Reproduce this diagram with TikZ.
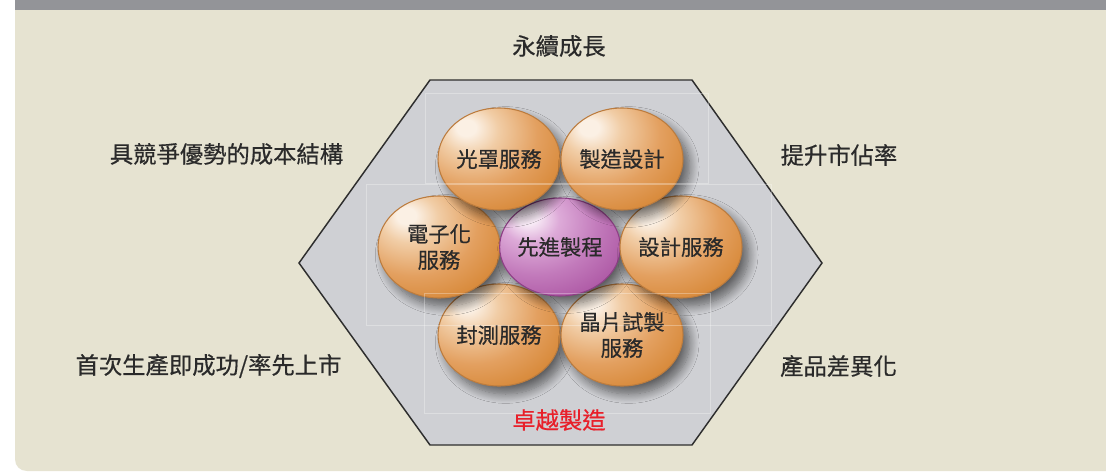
\documentclass[tikz,border=0pt]{standalone}
\usepackage{fontspec}
\newfontfamily\cjk[FakeBold=0.5]{Noto Sans CJK TC}
\usetikzlibrary{shapes.geometric,shadows.blur}
\definecolor{bg}{HTML}{E6E3D1}
\definecolor{barg}{HTML}{939498}
\definecolor{hexg}{HTML}{CFD0D4}
\definecolor{hexline}{HTML}{2E2E2E}
\definecolor{txt}{HTML}{2A2A2A}
\definecolor{redtxt}{HTML}{E8202A}
\definecolor{ohi}{HTML}{FBF0E4}
\definecolor{oa}{HTML}{F1CDA6}
\definecolor{ob}{HTML}{E3A060}
\definecolor{oc}{HTML}{D68634}
\definecolor{od}{HTML}{D07F2E}
\definecolor{oe}{HTML}{C8772A}
\definecolor{orim}{HTML}{BC7C3E}
\definecolor{phi}{HTML}{F7E9F5}
\definecolor{pa}{HTML}{DDAAD8}
\definecolor{pb}{HTML}{C27ABB}
\definecolor{pc}{HTML}{AC56A3}
\definecolor{pd}{HTML}{A24B99}
\definecolor{pe}{HTML}{94408C}
\definecolor{prim}{HTML}{8E3F86}
\pgfdeclareradialshading{oball}{\pgfpoint{-14bp}{16bp}}{color(0bp)=(ohi); color(4bp)=(ohi); color(12bp)=(oa); color(26bp)=(ob); color(40bp)=(oc); color(56bp)=(od); color(72bp)=(oe); color(100bp)=(oe)}
\pgfdeclareradialshading{pball}{\pgfpoint{-14bp}{16bp}}{color(0bp)=(phi); color(4bp)=(phi); color(12bp)=(pa); color(26bp)=(pb); color(40bp)=(pc); color(56bp)=(pd); color(72bp)=(pe); color(100bp)=(pe)}
\tikzset{
  ballbase/.style={ellipse, inner sep=0pt, line width=0.8pt, align=center,
    font=\cjk\fontsize{16}{19.5}\selectfont, text=txt,
    blur shadow={shadow xshift=5pt, shadow yshift=-6pt, shadow blur steps=12, shadow blur radius=7pt, shadow opacity=55}},
  oballs/.style={ballbase, minimum width=91.5pt, minimum height=76.5pt, shading=oball, draw=orim},
  pballs/.style={ballbase, minimum width=86pt, minimum height=73.5pt, shading=pball, draw=prim},
  outer/.style={font=\cjk\fontsize{17.5}{20}\selectfont, text=txt, inner sep=0pt},
  faint/.style={draw=white, opacity=0.3, line width=0.6pt}
}
\begin{document}
\begin{tikzpicture}[x=0.75pt,y=-0.75pt]
\useasboundingbox (0,0) rectangle (1106,471);
\fill[white] (0,0) rectangle (1106,471);
\fill[bg] (15,0) -- (1106,0) -- (1106,471) -- (27,471) .. controls (20,471) and (15,466) .. (15,459) -- cycle;
\fill[barg] (15,0) rectangle (1106,10);
% hexagon
\filldraw[fill=hexg, draw=hexline, line width=1.1pt] (299,263) -- (430,80) -- (692,80) -- (822,263) -- (692,445) -- (430,445) -- cycle;
% balls: bottom row, middle row, top row
\node[oballs] (fc) at (499,335) {封測服務};
\node[oballs] (jp) at (622,335) {晶片試製\\服務};
\node[oballs] (dz) at (439,247) {電子化\\服務};
\node[pballs] (xj) at (560,247) {先進製程};
\node[oballs] (sj) at (681,247) {設計服務};
\node[oballs] (gz) at (499,159) {光罩服務};
\node[oballs] (zz) at (622,159) {製造設計};
% faint grid lines
\draw[faint] (425,93) rectangle (708,183);
\draw[faint] (366,184) rectangle (771,325);
\draw[faint] (424,293) rectangle (710,413);
% outer labels
\node[outer] (l1) at (559,46) {永續成長};
\node[outer] (l2) at (226.5,154) {具競爭優勢的成本結構};
\node[outer] (l3) at (839,155) {提升市佔率};
\node[outer] (l4) at (208.5,366) {首次生產即成功/率先上市};
\node[outer] (l5) at (838.5,366) {產品差異化};
\node[outer, text=redtxt] (l6) at (559,420) {卓越製造};
\end{tikzpicture}
\end{document}
